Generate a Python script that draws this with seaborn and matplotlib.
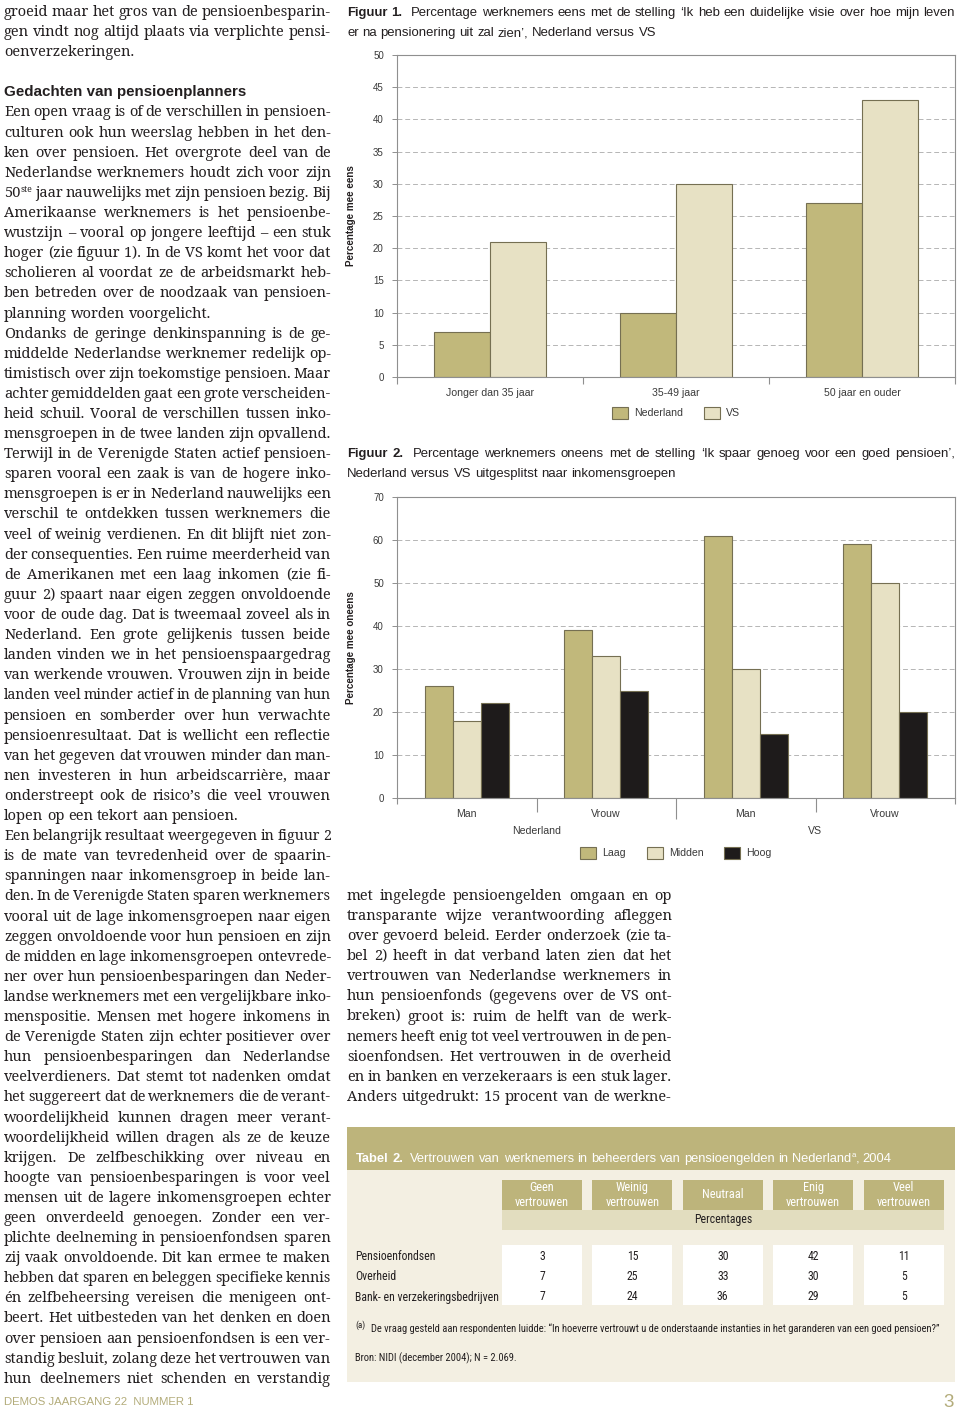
import matplotlib
matplotlib.use("Agg")
import matplotlib.pyplot as plt
import matplotlib.transforms as mtransforms
from matplotlib.font_manager import FontProperties, fontManager
from matplotlib.patches import Rectangle
import numpy as np
import pandas as pd
import seaborn as sns

# ------------------------------------------------------------------ data
leeftijdsgroepen = ["Jonger dan 35 jaar", "35-49 jaar", "50 jaar en ouder"]
landen = ["Nederland", "VS"]
fig1_nederland = [7, 10, 27]
fig1_vs = [21, 30, 43]

fig2_groepen = ["Nederland Man", "Nederland Vrouw", "VS Man", "VS Vrouw"]
fig2_geslacht = ["Man", "Vrouw", "Man", "Vrouw"]
fig2_landen = ["Nederland", "VS"]
inkomensgroepen = ["Laag", "Midden", "Hoog"]
fig2_laag = [26, 39, 61, 59]
fig2_midden = [18, 33, 30, 50]
fig2_hoog = [22, 25, 15, 20]

tabel_kolommen = ["Geen\nvertrouwen", "Weinig\nvertrouwen", "Neutraal",
                  "Enig\nvertrouwen", "Veel\nvertrouwen"]
tabel_rijen = ["Pensioenfondsen", "Overheid", "Bank- en verzekeringsbedrijven"]
tabel_pensioenfondsen = [3, 15, 30, 42, 11]
tabel_overheid = [7, 25, 33, 30, 5]
tabel_banken = [7, 24, 36, 29, 5]

fig1_titel = ["Figuur 1.  Percentage werknemers eens met de stelling \u2018Ik heb een duidelijke visie over hoe mijn leven",
              "er na pensionering uit zal zien\u2019, Nederland versus VS"]
fig2_titel = ["Figuur 2.  Percentage werknemers oneens met de stelling \u2018Ik spaar genoeg voor een goed pensioen\u2019,",
              "Nederland versus VS uitgesplitst naar inkomensgroepen"]
tabel_titel = "Tabel 2.  Vertrouwen van werknemers in beheerders van pensioengelden in Nederland^{a}, 2004"
tabel_noot = "De vraag gesteld aan respondenten luidde: \u201cIn hoeverre vertrouwt u de onderstaande instanties in het garanderen van een goed pensioen?\u201d"
tabel_bron = "Bron: NIDI (december 2004); N = 2.069."
voettekst = "DEMOS JAARGANG 22  NUMMER 1"
paginanummer = "3"

# text columns: (line, kind)  j = justified, l = last line of paragraph, b = blank, h = heading
linker_kolom = [
    ("groeid maar het gros van de pensioenbesparin-", "j"),
    ("gen vindt nog altijd plaats via verplichte pensi-", "j"),
    ("oenverzekeringen.", "l"),
    ("", "b"),
    ("Gedachten van pensioenplanners", "h"),
    ("Een open vraag is of de verschillen in pensioen-", "j"),
    ("culturen ook hun weerslag hebben in het den-", "j"),
    ("ken over pensioen. Het overgrote deel van de", "j"),
    ("Nederlandse werknemers houdt zich voor zijn", "j"),
    ("50^{ste} jaar nauwelijks met zijn pensioen bezig. Bij", "j"),
    ("Amerikaanse werknemers is het pensioenbe-", "j"),
    ("wustzijn \u2013 vooral op jongere leeftijd \u2013 een stuk", "j"),
    ("hoger (zie figuur 1). In de VS komt het voor dat", "j"),
    ("scholieren al voordat ze de arbeidsmarkt heb-", "j"),
    ("ben betreden over de noodzaak van pensioen-", "j"),
    ("planning worden voorgelicht.", "l"),
    ("Ondanks de geringe denkinspanning is de ge-", "j"),
    ("middelde Nederlandse werknemer redelijk op-", "j"),
    ("timistisch over zijn toekomstige pensioen. Maar", "j"),
    ("achter gemiddelden gaat een grote verscheiden-", "j"),
    ("heid schuil. Vooral de verschillen tussen inko-", "j"),
    ("mensgroepen in de twee landen zijn opvallend.", "j"),
    ("Terwijl in de Verenigde Staten actief pensioen-", "j"),
    ("sparen vooral een zaak is van de hogere inko-", "j"),
    ("mensgroepen is er in Nederland nauwelijks een", "j"),
    ("verschil te ontdekken tussen werknemers die", "j"),
    ("veel of weinig verdienen. En dit blijft niet zon-", "j"),
    ("der consequenties. Een ruime meerderheid van", "j"),
    ("de Amerikanen met een laag inkomen (zie fi-", "j"),
    ("guur 2) spaart naar eigen zeggen onvoldoende", "j"),
    ("voor de oude dag. Dat is tweemaal zoveel als in", "j"),
    ("Nederland. Een grote gelijkenis tussen beide", "j"),
    ("landen vinden we in het pensioenspaargedrag", "j"),
    ("van werkende vrouwen. Vrouwen zijn in beide", "j"),
    ("landen veel minder actief in de planning van hun", "j"),
    ("pensioen en somberder over hun verwachte", "j"),
    ("pensioenresultaat. Dat is wellicht een reflectie", "j"),
    ("van het gegeven dat vrouwen minder dan man-", "j"),
    ("nen investeren in hun arbeidscarri\u00e8re, maar", "j"),
    ("onderstreept ook de risico\u2019s die veel vrouwen", "j"),
    ("lopen op een tekort aan pensioen.", "l"),
    ("Een belangrijk resultaat weergegeven in figuur 2", "j"),
    ("is de mate van tevredenheid over de spaarin-", "j"),
    ("spanningen naar inkomensgroep in beide lan-", "j"),
    ("den. In de Verenigde Staten sparen werknemers", "j"),
    ("vooral uit de lage inkomensgroepen naar eigen", "j"),
    ("zeggen onvoldoende voor hun pensioen en zijn", "j"),
    ("de midden en lage inkomensgroepen ontevrede-", "j"),
    ("ner over hun pensioenbesparingen dan Neder-", "j"),
    ("landse werknemers met een vergelijkbare inko-", "j"),
    ("menspositie. Mensen met hogere inkomens in", "j"),
    ("de Verenigde Staten zijn echter positiever over", "j"),
    ("hun pensioenbesparingen dan Nederlandse", "j"),
    ("veelverdieners. Dat stemt tot nadenken omdat", "j"),
    ("het suggereert dat de werknemers die de verant-", "j"),
    ("woordelijkheid kunnen dragen meer verant-", "j"),
    ("woordelijkheid willen dragen als ze de keuze", "j"),
    ("krijgen. De zelfbeschikking over niveau en", "j"),
    ("hoogte van pensioenbesparingen is voor veel", "j"),
    ("mensen uit de lagere inkomensgroepen echter", "j"),
    ("geen onverdeeld genoegen. Zonder een ver-", "j"),
    ("plichte deelneming in pensioenfondsen sparen", "j"),
    ("zij vaak onvoldoende. Dit kan ermee te maken", "j"),
    ("hebben dat sparen en beleggen specifieke kennis", "j"),
    ("\u00e9n zelfbeheersing vereisen die menigeen ont-", "j"),
    ("beert. Het uitbesteden van het denken en doen", "j"),
    ("over pensioen aan pensioenfondsen is een ver-", "j"),
    ("standig besluit, zolang deze het vertrouwen van", "j"),
    ("hun deelnemers niet schenden en verstandig", "j"),
]
rechter_kolom = [
    ("met ingelegde pensioengelden omgaan en op", "j"),
    ("transparante wijze verantwoording afleggen", "j"),
    ("over gevoerd beleid. Eerder onderzoek (zie ta-", "j"),
    ("bel 2) heeft in dat verband laten zien dat het", "j"),
    ("vertrouwen van Nederlandse werknemers in", "j"),
    ("hun pensioenfonds (gegevens over de VS ont-", "j"),
    ("breken) groot is: ruim de helft van de werk-", "j"),
    ("nemers heeft enig tot veel vertrouwen in de pen-", "j"),
    ("sioenfondsen. Het vertrouwen in de overheid", "j"),
    ("en in banken en verzekeraars is een stuk lager.", "j"),
    ("Anders uitgedrukt: 15 procent van de werkne-", "j"),
]

# ------------------------------------------------------------------ style
sns.set_style("white")
plt.rcParams["font.family"] = ["Liberation Sans", "DejaVu Sans"]
_names = {f.name for f in fontManager.ttflist}
NARROW = next((n for n in ["Roboto Condensed", "Archivo Narrow", "PT Sans Narrow",
                           "Liberation Sans Narrow", "Open Sans Condensed"] if n in _names),
              "Liberation Sans")
SERIF = next((n for n in ["Noto Serif", "Liberation Serif"] if n in _names), "DejaVu Serif")

C_LAAG = "#C1B87B"
C_MIDDEN = "#E7E1C4"
C_HOOG = "#1E1B1B"
EDGE = "#756F52"
OLIVE = "#BDB47B"
PANEL = "#F3EFE2"
PCT = "#E2DDBF"
INK = "#231F20"
AX_TXT = "#3a3a3a"
SPINE = "#8f8f8f"

W, H = 960, 1409
fig = plt.figure(figsize=(W / 100, H / 100), dpi=100)
page = fig.add_axes([0, 0, 1, 1], zorder=0)
page.set_xlim(0, W)
page.set_ylim(H, 0)
page.axis("off")
renderer = fig.canvas.get_renderer()


def fp_(family, size, weight="normal"):
    return FontProperties(family=[family, "DejaVu Sans"], size=size, weight=weight)


def tw(s, fp):
    if not s:
        return 0.0
    w, h, d = renderer.get_text_width_height_descent(s, fp, ismath=False)
    return w


def plain(s):
    return s.replace("^{", "").replace("}", "")


def fit(text, family, weight, width, ref=10.0):
    return ref * width / tw(plain(text), fp_(family, ref, weight))


def rect(x0, y0, x1, y1):
    return [x0 / W, 1 - y1 / H, (x1 - x0) / W, (y1 - y0) / H]


def parse_word(word, fp, fp_sup, rise):
    segs = []
    while "^{" in word:
        i = word.index("^{")
        j = word.index("}", i)
        if i > 0:
            segs.append((word[:i], fp, 0.0))
        segs.append((word[i + 2:j], fp_sup, -rise))
        word = word[j + 1:]
    if word:
        segs.append((word, fp, 0.0))
    return segs


def space_of(fp):
    return tw("a a", fp) - tw("aa", fp)


def words_of(line, fp, fp_sup, rise, bold_fp=None, n_bold=0):
    out = []
    for k, w in enumerate(line.split(" ")):
        f = bold_fp if (bold_fp is not None and k < n_bold) else fp
        out.append(parse_word(w, f, fp_sup, rise) if w else [])
    return out


def word_widths(words):
    return [sum(tw(t, f) for t, f, _ in w) for w in words]


def draw_line(words, x0, x1, y, justify, color, space):
    widths = word_widths(words)
    if justify and len(words) > 1:
        gap = (x1 - x0 - sum(widths)) / (len(words) - 1)
    else:
        gap = space
    x = x0
    for w, wd in zip(words, widths):
        xx = x
        for t, f, dy in w:
            page.text(xx, y + dy, t, fontproperties=f, color=color,
                      ha="left", va="baseline")
            xx += tw(t, f)
        x += wd + gap


# ------------------------------------------------------------------ body text columns
def line_need(txt, size):
    f = fp_(SERIF, size)
    ws = words_of(txt, f, fp_(SERIF, size * 0.6), 0)
    return sum(word_widths(ws)) + space_of(f) * (len(ws) - 1)


_ratios = [w / line_need(t, 11.0)
           for lines, w in ((linker_kolom, 327), (rechter_kolom, 325))
           for t, k in lines if k == "j"]
S_BODY = float(np.clip(11.0 * np.percentile(_ratios, 30), 9.5, 12.5))


def draw_body(txt, kind, x0, x1, yb):
    size = S_BODY
    f = fp_(SERIF, size)
    words = words_of(txt, f, fp_(SERIF, size * 0.6), 5)
    need = sum(word_widths(words)) + 0.75 * space_of(f) * (len(words) - 1)
    if kind == "j" and need > (x1 - x0):
        size = size * (x1 - x0) / need
        f = fp_(SERIF, size)
        words = words_of(txt, f, fp_(SERIF, size * 0.6), 5)
    draw_line(words, x0, x1, yb, kind == "j", INK, space_of(f))


head_fp = fp_("Liberation Sans", fit("Gedachten van pensioenplanners", "Liberation Sans", "bold", 243), "bold")

LH = 20.1
for i, (txt, kind) in enumerate(linker_kolom):
    yb = 16 + LH * i
    if kind == "b":
        continue
    if kind == "h":
        page.text(4, yb, txt, fontproperties=head_fp, color=INK, ha="left", va="baseline")
        continue
    draw_body(txt, kind, 4, 331, yb)

for k, (txt, kind) in enumerate(rechter_kolom):
    draw_body(txt, kind, 347, 672, 900 + LH * k)

# ------------------------------------------------------------------ figure titles
s_title = fit(fig1_titel[0], "Liberation Sans", "normal", 600)
t_fp = fp_("Liberation Sans", s_title)
t_bold = fp_("Liberation Sans", s_title, "bold")
t_space = space_of(t_fp)
for titel, yb in ((fig1_titel, 16), (fig2_titel, 457)):
    draw_line(words_of(titel[0], t_fp, t_fp, 0, t_bold, 2), 347, 955, yb, True, INK, t_space)
    draw_line(words_of(titel[1], t_fp, t_fp, 0), 347, 955, yb + 20, False, INK, t_space)

# ------------------------------------------------------------------ chart helpers
s_cat = fit("Jonger dan 35 jaar", "Liberation Sans", "normal", 88)
s_ylab = fit("Percentage mee eens", "Liberation Sans", "bold", 101)
cat_fp = fp_("Liberation Sans", s_cat)
ylab_fp = fp_("Liberation Sans", s_ylab, "bold")


def style_chart(ax, ncat, ymax, ystep, ylabel, ax_h, divider_px):
    ax.set_xlim(-0.5, ncat - 0.5)
    ax.set_ylim(0, ymax)
    ax.set_yticks(np.arange(0, ymax + 1, ystep))
    ax.grid(axis="y", color="#b5b5b5", linestyle=(0, (5, 3)), linewidth=0.7)
    ax.grid(axis="x", visible=False)
    ax.set_axisbelow(True)
    for sp in ax.spines.values():
        sp.set_visible(True)
        sp.set_color(SPINE)
        sp.set_linewidth(0.8)
    ax.tick_params(axis="y", left=True, length=3.5, width=0.7, color=SPINE, pad=6,
                   labelsize=7, labelcolor=AX_TXT)
    ax.tick_params(axis="x", bottom=False, length=0, pad=8, labelcolor=AX_TXT)
    for lab in ax.get_xticklabels():
        lab.set_fontproperties(cat_fp)
    ax.set_xlabel("")
    ax.set_ylabel(ylabel, fontproperties=ylab_fp, color=INK)
    ax.yaxis.set_label_coords((351 - 397) / 558, 0.5)
    ax.yaxis.label.set_verticalalignment("center")
    trans = mtransforms.blended_transform_factory(ax.transData, ax.transAxes)
    for j, L in enumerate(divider_px):
        x = -0.5 + j
        ax.plot([x, x], [0, -L / ax_h], transform=trans, color=SPINE, lw=0.8,
                clip_on=False, solid_capstyle="butt")


# ------------------------------------------------------------------ figuur 1
df1 = pd.DataFrame({
    "Leeftijd": leeftijdsgroepen * len(landen),
    "Land": [l for l in landen for _ in leeftijdsgroepen],
    "Percentage": fig1_nederland + fig1_vs,
})
ax1 = fig.add_axes(rect(397, 55, 955, 377))
sns.barplot(data=df1, x="Leeftijd", y="Percentage", hue="Land", order=leeftijdsgroepen,
            hue_order=landen, palette=[C_LAAG, C_MIDDEN], width=0.6, saturation=1,
            edgecolor=EDGE, linewidth=0.8, errorbar=None, ax=ax1)
style_chart(ax1, 3, 50, 5, "Percentage mee eens", 322, [7, 7, 7, 7])
sns.move_legend(ax1, "center", bbox_to_anchor=(676 / W, 1 - 413 / H),
                bbox_transform=fig.transFigure, ncol=2, title=None, frameon=False,
                prop=cat_fp, handlelength=1.5, handleheight=1.45, handletextpad=0.6,
                columnspacing=2.0, labelcolor=AX_TXT)
for h in ax1.get_legend().legend_handles:
    h.set_edgecolor(EDGE)
    h.set_linewidth(0.8)

# ------------------------------------------------------------------ figuur 2
df2 = pd.DataFrame({
    "Groep": fig2_groepen * len(inkomensgroepen),
    "Inkomen": [g for g in inkomensgroepen for _ in fig2_groepen],
    "Percentage": fig2_laag + fig2_midden + fig2_hoog,
})
ax2 = fig.add_axes(rect(397, 497, 955, 798))
sns.barplot(data=df2, x="Groep", y="Percentage", hue="Inkomen", order=fig2_groepen,
            hue_order=inkomensgroepen, palette=[C_LAAG, C_MIDDEN, C_HOOG], width=0.6,
            saturation=1, edgecolor=EDGE, linewidth=0.8, errorbar=None, ax=ax2)
ax2.set_xticks(range(len(fig2_groepen)))
ax2.set_xticklabels(fig2_geslacht)
style_chart(ax2, 4, 70, 10, "Percentage mee oneens", 301, [6, 14, 21, 14, 6])
trans2 = mtransforms.blended_transform_factory(ax2.transData, ax2.transAxes)
for land in fig2_landen:
    xs = [i for i, g in enumerate(fig2_groepen) if g.startswith(land)]
    ax2.text(np.mean(xs), -(831 - 798) / 301, land, transform=trans2, ha="center",
             va="center", fontproperties=cat_fp, color=AX_TXT)
sns.move_legend(ax2, "center", bbox_to_anchor=(676 / W, 1 - 853 / H),
                bbox_transform=fig.transFigure, ncol=3, title=None, frameon=False,
                prop=cat_fp, handlelength=1.5, handleheight=1.45, handletextpad=0.6,
                columnspacing=2.0, labelcolor=AX_TXT)
for h in ax2.get_legend().legend_handles:
    h.set_edgecolor(EDGE)
    h.set_linewidth(0.8)

# ------------------------------------------------------------------ tabel 2
page.add_patch(Rectangle((347, 1127), 608, 43, fc=OLIVE, ec="none"))
page.add_patch(Rectangle((347, 1170), 608, 212, fc=PANEL, ec="none"))

s_ttl = fit(tabel_titel, "Liberation Sans", "normal", 539)
ttl_fp = fp_("Liberation Sans", s_ttl)
ttl_bold = fp_("Liberation Sans", s_ttl, "bold")
ttl_sup = fp_("Liberation Sans", s_ttl * 0.6)
draw_line(words_of(tabel_titel, ttl_fp, ttl_sup, 5, ttl_bold, 2), 356, 955, 1162, False,
          "white", space_of(ttl_fp))

s_row = fit("Bank- en verzekeringsbedrijven", NARROW, "normal", 143)
row_fp = fp_(NARROW, s_row)
hdr_fp = fp_(NARROW, fit("vertrouwen", NARROW, "normal", 54))

col_w, pitch, x_first = 80, 90.4, 502
col_x = [x_first + pitch * i for i in range(len(tabel_kolommen))]
page.add_patch(Rectangle((x_first, 1210), col_x[-1] + col_w - x_first, 20, fc=PCT, ec="none"))
page.text((x_first + col_x[-1] + col_w) / 2, 1220, "Percentages", ha="center", va="center",
          fontproperties=row_fp, color=INK)
rows = [tabel_pensioenfondsen, tabel_overheid, tabel_banken]
row_y = [1257, 1277, 1297]
for j, (x, kol) in enumerate(zip(col_x, tabel_kolommen)):
    page.add_patch(Rectangle((x, 1180), col_w, 30, fc=OLIVE, ec="none"))
    page.text(x + col_w / 2, 1195, kol, ha="center", va="center", fontproperties=hdr_fp,
              color="white", linespacing=1.15)
    page.add_patch(Rectangle((x, 1245), col_w, 60, fc="white", ec="none"))
    for vals, y in zip(rows, row_y):
        page.text(x + col_w / 2, y, str(vals[j]), ha="center", va="center",
                  fontproperties=row_fp, color=INK)
for naam, y in zip(tabel_rijen, row_y):
    page.text(355, y, naam, ha="left", va="center", fontproperties=row_fp, color=INK)

noot_fp = fp_(NARROW, fit(tabel_noot, NARROW, "normal", 569))
page.text(355, 1325, "(a)", ha="left", va="center", color=INK,
          fontproperties=fp_(NARROW, noot_fp.get_size() * 0.85))
page.text(371, 1329, tabel_noot, ha="left", va="center", fontproperties=noot_fp, color=INK)
page.text(355, 1358, tabel_bron, ha="left", va="center", fontproperties=noot_fp, color=INK)

# ------------------------------------------------------------------ footer
page.text(4, 1405, voettekst, ha="left", va="baseline", color="#B3AC7A",
          fontproperties=fp_("Liberation Sans", fit(voettekst, "Liberation Sans", "normal", 190)))
page.text(954, 1407, paginanummer, ha="right", va="baseline", color="#B3AC7A",
          fontproperties=fp_("Liberation Sans", 13.5))

fig.savefig("out.png", dpi=100)
